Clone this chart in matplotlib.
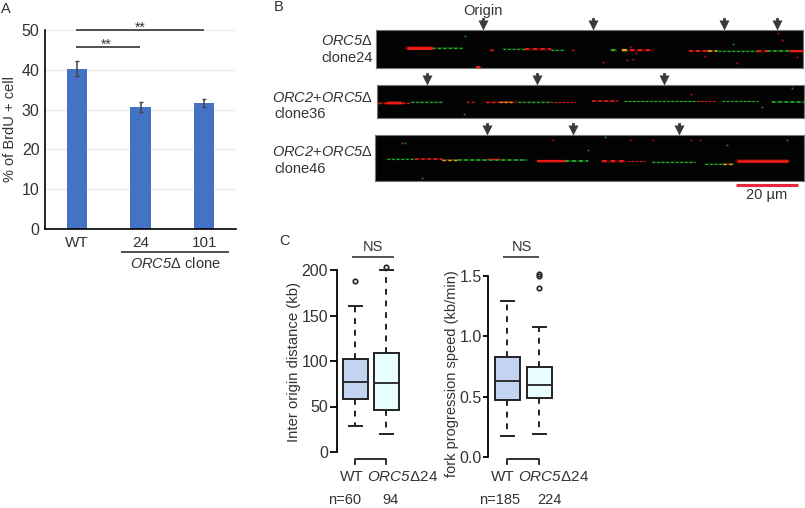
import matplotlib
matplotlib.use('Agg')
import matplotlib.pyplot as plt

W, H = 805, 508
TXT = '#333333'

plt.rcParams['font.family'] = ['Liberation Sans', 'DejaVu Sans']
plt.rcParams['mathtext.fontset'] = 'custom'
plt.rcParams['mathtext.cal'] = 'Liberation Sans:italic'
plt.rcParams['mathtext.rm'] = 'Liberation Sans'

# panel A
clones = ['WT', '24', '101']
brdu = [40.3, 30.7, 31.6]
brdu_err = [1.9, 1.3, 1.0]

# panel B: fibre stretches as (start, end, y, thickness)
strip1_red = [(407, 432, 48, 3.5), (490, 494, 50, 1.5), (525, 551, 49, 2), (572, 574, 50, 1.2),
              (630, 652, 50, 2), (689, 708, 51, 1.8), (757, 767, 51, 2), (790, 803, 51, 2.5), (476, 481, 67, 2)]
strip1_green = [(432, 462, 48, 1.4), (503, 527, 49, 1.2), (551, 565, 50, 1.2), (611, 616, 50, 2),
                (718, 757, 51, 1.2), (767, 790, 51, 1.6)]
strip1_yellow = [(622, 627, 50, 2.2), (708, 717, 51, 1.8)]
strip2_red = [(378, 387, 103, 1.5), (387, 402, 103, 3), (402, 410, 103, 1.2), (467, 469, 102, 1.2), (472, 474, 102, 1.2),
              (486, 516, 102, 1.5), (551, 575, 102, 1), (592, 618, 101, 1.6), (697, 715, 101, 1)]
strip2_green = [(411, 443, 102, 1.2), (518, 551, 102, 1.2), (624, 697, 101, 1.1), (722, 758, 101, 1.1), (772, 804, 102, 1.6)]
strip2_yellow = [(500, 512, 102, 1.2)]
strip3_red = [(415, 442, 159, 1.6), (487, 500, 158.5, 1.3), (537, 565, 161, 2.6), (602, 625, 161, 2.2), (628, 645, 161, 1),
              (737, 788, 161, 3.2)]
strip3_green = [(387, 415, 159, 1.2), (458, 527, 160, 1.6), (565, 588, 161, 1.8), (652, 695, 162, 1.2), (705, 722, 164, 1.2)]
strip3_yellow = [(442, 457, 159.5, 1.5), (723, 733, 164, 1.5)]
strip1_spots = [(465, 36, 'g'), (603, 62, 'r'), (627, 60, 'r'), (633, 59, 'r'), (705, 56, 'r'), (737, 63, 'r'),
                (782, 40, 'r'), (797, 57, 'r'), (778, 33, 'r'), (636, 53, 'r'), (630, 47, 'r'), (733, 44, 'g')]
strip2_spots = [(464, 114, 'g'), (762, 107, 'g'), (792, 88, 'g'), (691, 94, 'r')]
strip3_spots = [(402, 143, 'r'), (405, 143, 'g'), (422, 178, 'g'), (727, 145, 'g'), (605, 137, 'g'), (630, 140, 'r'),
                (653, 140, 'r'), (691, 140, 'r'), (787, 140, 'g'), (588, 150, 'g'), (553, 140, 'r'), (700, 140, 'r')]
arrows1 = [483, 593, 724, 777]
arrows2 = [427, 537, 664]
arrows3 = [487, 573, 679]

# panel C
dist_stats = [dict(whislo=29, q1=58, med=77, q3=102, whishi=160, fliers=[188]),
              dict(whislo=20, q1=46, med=76, q3=109, whishi=200, fliers=[203])]
speed_stats = [dict(whislo=0.17, q1=0.47, med=0.63, q3=0.83, whishi=1.29, fliers=[]),
               dict(whislo=0.19, q1=0.49, med=0.60, q3=0.75, whishi=1.08, fliers=[1.40, 1.50, 1.52])]
box_colors = ['#C3D4F2', '#E9FFFF']


def px_axes(left, top, right, bottom):
    return fig.add_axes([left / W, 1 - bottom / H, (right - left) / W, (bottom - top) / H])


fig = plt.figure(figsize=(W / 100, H / 100), dpi=100)

# overlay in pixels for labels and brackets
over = fig.add_axes([0, 0, 1, 1], zorder=5)
over.set_xlim(0, W)
over.set_ylim(H, 0)
over.axis('off')


def label(x, y, s, size=10.5, ha='center', **kw):
    over.text(x, y, s, fontsize=size, ha=ha, va='center', color=TXT, **kw)


def hline(x0, x1, y, lw=1.2, color='#333333'):
    over.plot([x0, x1], [y, y], color=color, lw=lw, solid_capstyle='butt')


# A
ax = px_axes(45, 30, 236, 229)
ax.bar(clones, brdu, width=0.32, color='#4472C4', zorder=2)
ax.errorbar(clones, brdu, yerr=brdu_err, fmt='none', ecolor='#444444', elinewidth=1.1, capsize=1.5, zorder=3)
ax.set_xlim(-0.5, 2.5)
ax.set_ylim(0, 50)
ax.set_yticks(range(0, 51, 10))
ax.yaxis.grid(True, color='#EAEAEA', lw=0.9)
ax.set_axisbelow(True)
ax.spines[['top', 'right']].set_visible(False)
ax.spines[['left', 'bottom']].set_linewidth(1.2)
ax.tick_params(length=0, labelsize=11.5, labelcolor=TXT, pad=4)
ax.tick_params(axis='x', labelsize=11, pad=5)
ax.set_ylabel('% of BrdU + cell', fontsize=10.5, color=TXT, labelpad=3)
label(6, 9, 'A', 10.5)
hline(76, 204, 30)
hline(76, 140, 47)
label(140, 28, '**', 10)
label(106, 45, '**', 10)
hline(121, 229, 252)
label(175, 263, r'$\mathcal{ORC5}$Δ clone', 10.5)

# B
strips = [(376, 30, 803, 68, strip1_red, strip1_green, strip1_yellow, strip1_spots, arrows1),
          (377, 85, 804, 118, strip2_red, strip2_green, strip2_yellow, strip2_spots, arrows2),
          (375, 135, 804, 181, strip3_red, strip3_green, strip3_yellow, strip3_spots, arrows3)]
for left, top, right, bottom, reds, greens, yellows, spots, arrows in strips:
    s = px_axes(left, top, right, bottom)
    s.set_facecolor('#030303')
    s.set_xlim(left, right)
    s.set_ylim(bottom, top)
    s.set_xticks([])
    s.set_yticks([])
    for sp in s.spines.values():
        sp.set_color('#777777')
        sp.set_linewidth(0.8)
    for c, stretches in [('#25B52E', greens), ('#EE1A14', reds), ('#E0A81E', yellows)]:
        for x0, x1, y, t in stretches:
            # dim halo, then a broken core so thin fibres look speckled
            s.plot([x0, x1], [y, y], color=c, lw=t * 0.9, alpha=0.28, solid_capstyle='round')
            if t >= 2.5:
                s.plot([x0 + 1, x1 - 1], [y, y], color=c, lw=t * 0.6, solid_capstyle='round')
            else:
                s.plot([x0, x1], [y, y], color=c, lw=t * 0.7, ls=(0, (2.2, 1.8)), dash_capstyle='butt')
    for x, y, c in spots:
        s.scatter(x, y, s=2, color='#B01515' if c == 'r' else '#128A1C', lw=0)
    for a in arrows:
        over.scatter(a, top - 5, marker='v', s=52, color='#3A3A3A', lw=0, clip_on=False)
        over.plot([a, a], [top - 11, top - 5], color='#3A3A3A', lw=2)

label(279, 7, 'B', 10.5)
label(483, 11, 'Origin', 10.5)
label(373, 41, r'$\mathcal{ORC5}$Δ', 10.5, ha='right')
label(373, 58, 'clone24', 10.5, ha='right')
label(373, 98, r'$\mathcal{ORC2}$+$\mathcal{ORC5}$Δ', 10.5, ha='right')
label(274, 114, 'clone36', 10.5, ha='left')
label(373, 152, r'$\mathcal{ORC2}$+$\mathcal{ORC5}$Δ', 10.5, ha='right')
label(274, 169, 'clone46', 10.5, ha='left')
hline(736, 798, 185, lw=2.2, color='#E8283A')
label(767, 195, '20 µm', 10.5)


# C
def box_panel(left, top, bottom, centers, stats, ymin, ymax, ticks, ticklabels, tick_len, pad):
    right = centers[1] + 30
    b = px_axes(left, top, right, bottom)
    spacing = centers[1] - centers[0]
    b.set_xlim(1 - (centers[0] - left) / spacing, 2 + (right - centers[1]) / spacing)
    b.set_ylim(ymin, ymax)
    parts = b.bxp(stats, positions=[1, 2], widths=25 / spacing, patch_artist=True, manage_ticks=False,
                  boxprops=dict(lw=1.4, edgecolor='#222222'),
                  medianprops=dict(lw=1.3, color='#222222'),
                  whiskerprops=dict(lw=1.4, color='#222222', ls=(0, (3, 3))),
                  capprops=dict(lw=1.4, color='#222222'),
                  capwidths=13 / spacing,
                  flierprops=dict(marker='o', ms=3.2, mfc='none', mec='#222222', mew=1.2))
    for patch, c in zip(parts['boxes'], box_colors):
        patch.set_facecolor(c)
    for group in parts.values():
        for artist in group:
            artist.set_clip_on(False)
    b.patch.set_alpha(0)
    b.spines[['top', 'right', 'bottom']].set_visible(False)
    b.spines['left'].set_linewidth(1.3)
    b.spines['left'].set_bounds(ticks[0], ticks[-1])
    b.set_xticks([])
    b.set_yticks(ticks)
    b.set_yticklabels(ticklabels)
    b.tick_params(axis='y', length=tick_len, width=1.3, labelsize=11.5, labelcolor=TXT, pad=pad)


box_panel(337, 270, 452, (355, 386), dist_stats, 0, 200, [0, 50, 100, 150, 200],
          ['0', '50', '100', '150', '200'], 5, 1.5)
box_panel(488, 276, 457, (507, 539), speed_stats, 0, 1.5, [0, 0.5, 1.0, 1.5],
          ['0.0', '0.5', '1.0', '1.5'], 3.6, 1)
label(294, 362, 'Inter origin distance (kb)', 10.7, rotation=90)
label(452, 374, 'fork progression speed (kb/min)', 10.5, rotation=90)

label(284, 241, 'C', 10.5)
label(373, 247, 'NS', 10.5)
hline(352, 394, 257)
label(522, 247, 'NS', 10.5)
hline(503, 539, 257)
for c0, c1 in [(355, 386), (507, 539)]:
    over.plot([c0, c0, c1, c1], [464, 459, 459, 464], color='#222222', lw=1.3)
label(352, 477, 'WT', 11)
label(403, 477, r'$\mathcal{ORC5}$Δ24', 11)
label(503, 477, 'WT', 11)
label(554, 477, r'$\mathcal{ORC5}$Δ24', 11)
label(345, 499.5, 'n=60', 10.5)
label(390, 499.5, '94', 10.5)
label(500, 499.5, 'n=185', 10.5)
label(549, 499.5, '224', 10.5)

fig.savefig('out.png', dpi=100)
